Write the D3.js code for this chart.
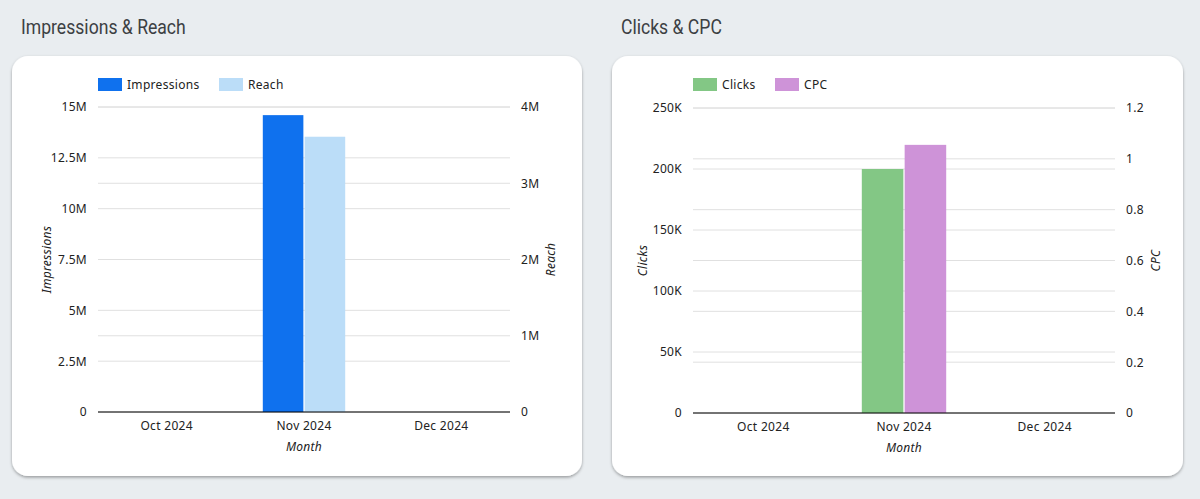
<!DOCTYPE html>
<html>
<head>
<meta charset="utf-8">
<script src="https://cdn.jsdelivr.net/npm/d3@7"></script>
<style>
  html, body { margin: 0; padding: 0; background: #e9edf0; }
  svg { display: block; }
  text { font-family: "Noto Sans", "Open Sans", sans-serif; letter-spacing: 0.3px; }
</style>
</head>
<body>
<svg id="canvas"></svg>
<script>
const width = 1200;
const height = 499;

// data
const months = ["Oct 2024", "Nov 2024", "Dec 2024"];
const impressions = [0, 14600000, 0];
const reach = [0, 3610000, 0];
const clicks = [0, 200000, 0];
const cpc = [0, 1.055, 0];

const impTicks = [0, 2500000, 5000000, 7500000, 10000000, 12500000, 15000000];
const reachTicks = [0, 1000000, 2000000, 3000000, 4000000];
const clickTicks = [0, 50000, 100000, 150000, 200000, 250000];
const cpcTicks = [0, 0.2, 0.4, 0.6, 0.8, 1, 1.2];

const svg = d3.select("#canvas")
  .attr("width", width)
  .attr("height", height);

const defs = svg.append("defs");
const shadow = defs.append("filter").attr("id", "shadow")
  .attr("x", "-5%").attr("y", "-5%").attr("width", "110%").attr("height", "115%");
shadow.append("feDropShadow")
  .attr("dx", 0).attr("dy", 1.5).attr("stdDeviation", 1.5)
  .attr("flood-color", "#000").attr("flood-opacity", 0.35);

const fmtSI = d => d === 0 ? "0" : d3.format("~s")(d).replace("k", "K");
const fmtNum = d => d3.format("~g")(d);

const panels = [
  {
    title: "Impressions & Reach", titleX: 21, card: [12, 56, 570, 420],
    plot: { x0: 98, x1: 510, y0: 412, y1: 107 },
    names: ["Impressions", "Reach"], colors: ["#0f71ee", "#bbddf8"],
    series: [impressions, reach],
    domains: [[0, 15000000], [0, 4000000]],
    ticks: [impTicks, reachTicks], fmts: [fmtSI, fmtSI],
    legend: [98, 219], leftTitleX: 47, rightTitleX: 551
  },
  {
    title: "Clicks & CPC", titleX: 621, card: [612, 56, 571, 420],
    plot: { x0: 693, x1: 1115, y0: 413, y1: 108 },
    names: ["Clicks", "CPC"], colors: ["#83c785", "#ce93d8"],
    series: [clicks, cpc],
    domains: [[0, 250000], [0, 1.2]],
    ticks: [clickTicks, cpcTicks], fmts: [fmtSI, fmtNum],
    legend: [693, 775], leftTitleX: 643, rightTitleX: 1156
  }
];

panels.forEach(p => {
  // section title
  svg.append("text")
    .attr("x", p.titleX).attr("y", 34)
    .attr("transform", `translate(${p.titleX},0) scale(0.88,1) translate(${-p.titleX},0)`)
    .style("font-family", "Roboto, sans-serif")
    .style("font-size", "20px")
    .style("letter-spacing", "0px")
    .attr("fill", "#3c4043")
    .text(p.title);

  // card
  svg.append("rect")
    .attr("x", p.card[0]).attr("y", p.card[1])
    .attr("width", p.card[2]).attr("height", p.card[3])
    .attr("rx", 16)
    .attr("fill", "#fff")
    .attr("filter", "url(#shadow)");

  const g = svg.append("g");

  const x = d3.scaleBand()
    .domain(months)
    .range([p.plot.x0, p.plot.x1])
    .paddingInner(0.4)
    .paddingOuter(0.2);

  const xs = d3.scaleBand()
    .domain([0, 1])
    .range([0, x.bandwidth()])
    .paddingInner(0.03);

  const yL = d3.scaleLinear().domain(p.domains[0]).range([p.plot.y0, p.plot.y1]);
  const yR = d3.scaleLinear().domain(p.domains[1]).range([p.plot.y0, p.plot.y1]);
  const ys = [yL, yR];

  // gridlines for both axes
  [0, 1].forEach(k => {
    g.append("g").selectAll("line")
      .data(p.ticks[k])
      .enter().append("line")
      .attr("x1", p.plot.x0).attr("x2", p.plot.x1)
      .attr("y1", d => ys[k](d)).attr("y2", d => ys[k](d))
      .attr("stroke", "#e0e0e0")
      .attr("stroke-width", 1);
  });

  // bars
  p.series.forEach((vals, k) => {
    g.append("g").selectAll("rect")
      .data(months.map((m, i) => ({ m, v: vals[i] })))
      .enter().append("rect")
      .attr("x", d => x(d.m) + xs(k))
      .attr("width", xs.bandwidth())
      .attr("y", d => ys[k](d.v))
      .attr("height", d => p.plot.y0 - ys[k](d.v))
      .attr("fill", p.colors[k]);
  });

  // baseline
  g.append("line")
    .attr("x1", p.plot.x0).attr("x2", p.plot.x1)
    .attr("y1", p.plot.y0).attr("y2", p.plot.y0)
    .attr("stroke", "#000").attr("stroke-width", 1.2);

  // left axis
  const axL = g.append("g")
    .attr("transform", `translate(${p.plot.x0 - 8},0)`)
    .call(d3.axisLeft(yL).tickValues(p.ticks[0]).tickFormat(p.fmts[0]).tickSize(0));
  // right axis
  const axR = g.append("g")
    .attr("transform", `translate(${p.plot.x1 + 8},0)`)
    .call(d3.axisRight(yR).tickValues(p.ticks[1]).tickFormat(p.fmts[1]).tickSize(0));
  // x axis
  const axX = g.append("g")
    .attr("transform", `translate(0,${p.plot.y0 + 6})`)
    .call(d3.axisBottom(x).tickSize(0));

  [axL, axR, axX].forEach(a => {
    a.select(".domain").remove();
    a.selectAll("text")
      .style("font-family", "\"Noto Sans\", sans-serif")
      .style("font-size", "12px")
      .attr("fill", "#222");
  });

  // axis titles
  g.append("text")
    .attr("transform", `translate(${p.leftTitleX},${(p.plot.y0 + p.plot.y1) / 2}) rotate(-90)`)
    .attr("text-anchor", "middle")
    .attr("dy", "0.35em")
    .style("font-size", "12px").style("font-style", "italic")
    .attr("fill", "#222")
    .text(p.names[0]);
  g.append("text")
    .attr("transform", `translate(${p.rightTitleX},${(p.plot.y0 + p.plot.y1) / 2}) rotate(-90)`)
    .attr("text-anchor", "middle")
    .attr("dy", "0.35em")
    .style("font-size", "12px").style("font-style", "italic")
    .attr("fill", "#222")
    .text(p.names[1]);
  g.append("text")
    .attr("x", (p.plot.x0 + p.plot.x1) / 2).attr("y", p.plot.y0 + 39)
    .attr("text-anchor", "middle")
    .style("font-size", "12px").style("font-style", "italic")
    .attr("fill", "#222")
    .text("Month");

  // legend
  p.names.forEach((n, k) => {
    g.append("rect")
      .attr("x", p.legend[k]).attr("y", p.card[1] + 22)
      .attr("width", 24).attr("height", 13)
      .attr("fill", p.colors[k]);
    g.append("text")
      .attr("x", p.legend[k] + 29).attr("y", p.card[1] + 29)
      .attr("dy", "0.35em")
      .style("font-size", "12px")
      .attr("fill", "#222")
      .text(n);
  });
});
</script>
</body>
</html>
